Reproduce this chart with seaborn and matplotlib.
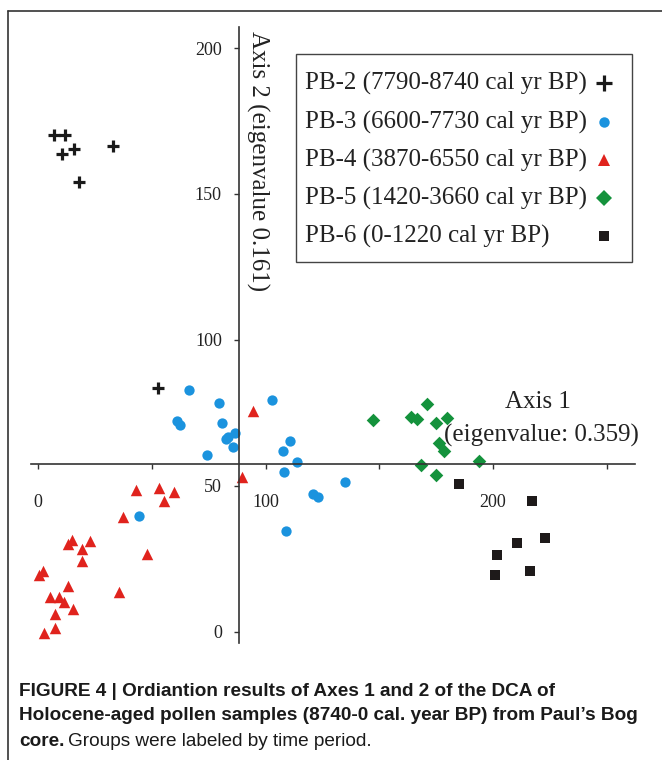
import numpy as np
import pandas as pd
import matplotlib.pyplot as plt
from matplotlib.lines import Line2D
from matplotlib.patches import Rectangle
import seaborn as sns

# DCA sample scores (axis 1, axis 2)
pb2_x = [7.0, 11.9, 10.5, 15.8, 33.0, 18.0, 52.7]
pb2_y = [170.2, 170.2, 163.7, 165.4, 166.4, 154.1, 83.6]

pb3_x = [66.5, 79.6, 61.0, 62.4, 80.7, 82.6, 83.7, 86.6, 85.6, 74.4,
         102.7, 110.8, 107.8, 113.7, 108.1, 134.9, 121.0, 123.2, 109.0, 44.5]
pb3_y = [82.9, 78.3, 72.3, 70.9, 71.7, 66.0, 66.7, 68.0, 63.2, 60.6,
         79.5, 65.5, 62.0, 58.1, 54.9, 51.5, 47.2, 46.1, 34.4, 39.7]

pb4_x = [43.1, 53.0, 59.9, 55.4, 37.2, 48.0, 14.9, 13.1, 22.9, 19.5, 19.5, 2.3,
         0.6, 13.3, 5.3, 9.2, 11.4, 15.2, 7.5, 7.5, 2.8, 35.6, 94.4, 89.5]
pb4_y = [48.6, 49.2, 47.8, 44.9, 39.4, 26.7, 31.5, 30.0, 31.2, 28.4, 24.4, 20.9,
         19.5, 15.6, 12.1, 12.1, 10.3, 7.8, 6.2, 1.3, -0.5, 13.6, 75.7, 53.0]

pb5_x = [147.4, 170.8, 164.0, 166.5, 174.9, 179.6, 176.4, 178.6, 168.4, 174.9, 194.0]
pb5_y = [72.6, 78.1, 73.5, 72.8, 71.5, 73.2, 64.6, 62.1, 57.2, 53.8, 58.7]

pb6_x = [185.2, 217.3, 222.9, 210.4, 201.6, 201.0, 216.3]
pb6_y = [50.6, 45.0, 32.1, 30.6, 26.4, 19.4, 20.7]

groups = ["PB-2 (7790-8740 cal yr BP)", "PB-3 (6600-7730 cal yr BP)",
          "PB-4 (3870-6550 cal yr BP)", "PB-5 (1420-3660 cal yr BP)",
          "PB-6 (0-1220 cal yr BP)"]
colors = ["#1a1a1a", "#1b93de", "#e0231d", "#14923c", "#1e1a1a"]
markers = ["+", "o", "^", "D", "s"]
sizes = [85, 55, 68, 48, 48]

xs = [pb2_x, pb3_x, pb4_x, pb5_x, pb6_x]
ys = [pb2_y, pb3_y, pb4_y, pb5_y, pb6_y]
df = pd.concat([pd.DataFrame({"axis1": x, "axis2": y, "group": g})
                for x, y, g in zip(xs, ys, groups)], ignore_index=True)

sns.set_style("white")
plt.rcParams["font.family"] = ["Liberation Serif", "DejaVu Serif"]

W, H = 662, 760
fig = plt.figure(figsize=(W / 100, H / 100), dpi=100)


def fx(x):
    return x / W


def fy(y):
    return 1 - y / H


ax = fig.add_axes([fx(31), fy(643), (635 - 31) / W, (643 - 27) / H])
ax.set_xlim(-3.1, 262.4)
ax.set_ylim(-3.8, 207.2)

for g, c, m, s in zip(groups, colors, markers, sizes):
    sub = df[df["group"] == g]
    lw = 2.3 if m == "+" else 0
    sns.scatterplot(data=sub, x="axis1", y="axis2", marker=m, color=c, s=s,
                    linewidth=lw, ax=ax, legend=False, clip_on=False)

# crossing axes
for side in ["top", "right"]:
    ax.spines[side].set_visible(False)
ax.spines["left"].set_position(("data", 88.4))
ax.spines["bottom"].set_position(("data", 57.5))
for side in ["left", "bottom"]:
    ax.spines[side].set_color("#333333")
    ax.spines[side].set_linewidth(1.2)

ax.set_xticks([0, 50, 100, 150, 200, 250])
ax.set_xticklabels(["0", "", "100", "", "200", ""])
ax.set_yticks([0, 50, 100, 150, 200])
ax.tick_params(axis="x", direction="out", length=3.5, width=1, color="#333333",
               pad=18, labelsize=13, bottom=True, labelcolor="#222222")
ax.tick_params(axis="y", direction="out", length=3.5, width=1, color="#333333",
               pad=9, labelsize=13, left=True, labelcolor="#222222")
ax.set_xlabel("")
ax.set_ylabel("")

fig.text(fx(258), fy(161), "Axis 2 (eigenvalue 0.161)", rotation=-90,
         ha="center", va="center", fontsize=18, color="#222222")
fig.text(fx(538), fy(402), "Axis 1", ha="center", va="center", fontsize=18,
         color="#222222")
fig.text(fx(541), fy(435), "(eigenvalue: 0.359)", ha="center", va="center",
         fontsize=18, color="#222222")

# legend box: labels left aligned, symbols in a column on the right
fig.add_artist(Rectangle((fx(296), fy(262)), (632 - 296) / W, (262 - 54) / H,
                         transform=fig.transFigure, fill=True, facecolor="white",
                         edgecolor="#444444", lw=1.0))
rows = [83, 122, 160, 198, 236]
leg_ms = [11, 7.5, 8.5, 8, 7.5]
for g, c, m, ms, r in zip(groups, colors, markers, leg_ms, rows):
    fig.text(fx(305), fy(r), g, ha="left", va="center", fontsize=18,
             color="#222222")
    fig.add_artist(Line2D([fx(604)], [fy(r)], marker=m, color=c, markersize=ms,
                          markeredgewidth=2.3 if m == "+" else 0,
                          linestyle="none", transform=fig.transFigure))

# outer frame (top and left edges)
fig.add_artist(Line2D([fx(8), 1], [fy(11), fy(11)], color="#333333", lw=1.2))
fig.add_artist(Line2D([fx(8), fx(8)], [fy(11), 0], color="#333333", lw=1.2))

# caption
cap = ["Liberation Sans Narrow", "Liberation Sans", "DejaVu Sans"]
fs = 13.7
fig.text(fx(19), fy(691), "FIGURE 4 | Ordiantion results of Axes 1 and 2 of the DCA of",
         family=cap, weight="bold", fontsize=fs, va="center", color="#1a1a1a")
fig.text(fx(19), fy(716), "Holocene-aged pollen samples (8740-0 cal. year BP) from Paul\u2019s Bog",
         family=cap, weight="bold", fontsize=fs, va="center", color="#1a1a1a")
t1 = fig.text(fx(19), fy(741), "core.", family=cap, weight="bold", fontsize=fs,
              va="center", color="#1a1a1a")
fig.canvas.draw()
bb = t1.get_window_extent()
fig.text(bb.x1 / W + fx(4), fy(741), "Groups were labeled by time period.",
         family=cap, fontsize=fs, va="center", color="#1a1a1a")

fig.savefig("out.png", dpi=100)
